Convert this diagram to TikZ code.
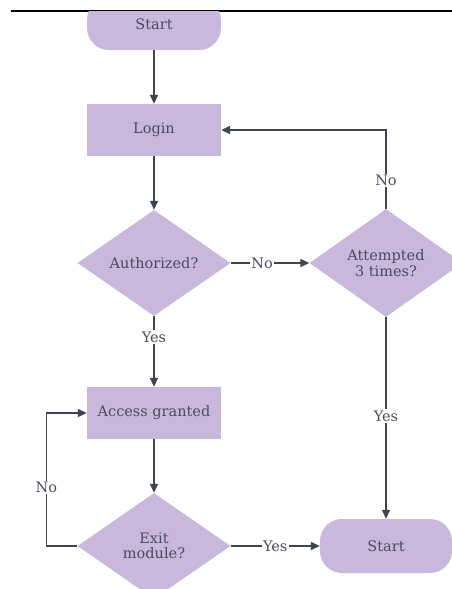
\documentclass[tikz,border=0pt]{standalone}
\usepackage{fontspec}
\setmainfont{DejaVu Serif}
\usetikzlibrary{shapes.geometric,arrows.meta}
\definecolor{lav}{HTML}{C9B8DB}
\definecolor{ink}{HTML}{3E4551}
\definecolor{txt}{HTML}{4B4B5E}
\begin{document}
\begin{tikzpicture}[x=1pt,y=-1pt,
  every node/.style={font=\fontsize{14.5}{15.5}\selectfont, text=txt},
  box/.style={rectangle, fill=lav, minimum width=134pt, minimum height=52pt, inner sep=0pt},
  term/.style={box, rounded corners=22pt},
  choice/.style={diamond, fill=lav, minimum width=153pt, minimum height=106pt, inner sep=1pt, align=center},
  flow/.style={draw=ink, line width=1.4pt, -{Triangle[length=9pt,width=8pt]}},
  tag/.style={fill=white, inner sep=1.5pt}]
\useasboundingbox (0,0) rectangle (452,589);
\clip (0,0) rectangle (452,589);

% header rule
\draw[black, line width=1.1pt] (11,11) -- (452,11);

% first terminal, cut off by the header rule
\begin{scope}
  \clip (0,11.5) rectangle (452,589);
  \node[term] (start) at (154,24) {Start};
\end{scope}

\node[box] (login) at (154,130) {Login};
\node[choice] (auth) at (154,263) {Authorized?};
\node[choice] (att) at (386,263) {Attempted\\3 times?};
\node[box] (access) at (154,413) {Access granted};
\node[choice] (exit) at (154,546) {Exit\\module?};
\node[term, minimum width=132pt, minimum height=54pt] (finish) at (386,546) {Start};

\draw[flow] (start) -- (login);
\draw[flow] (login) -- (auth);
\draw[flow] (auth) -- node[tag, pos=0.4]{No} (att);
\draw[flow] (att.north) |- node[tag, pos=0.18]{No} (login.east);
\draw[flow] (att) -- node[tag, pos=0.49]{Yes} (finish);
\draw[flow] (auth) -- node[tag, pos=0.3]{Yes} (access);
\draw[flow] (access) -- (exit);
\draw[flow] (exit) -- node[tag, pos=0.5]{Yes} (finish);
\draw[flow] (exit.west) -- ++(-31,0) |- node[tag, pos=0.22]{No} (access.west);
\end{tikzpicture}
\end{document}
